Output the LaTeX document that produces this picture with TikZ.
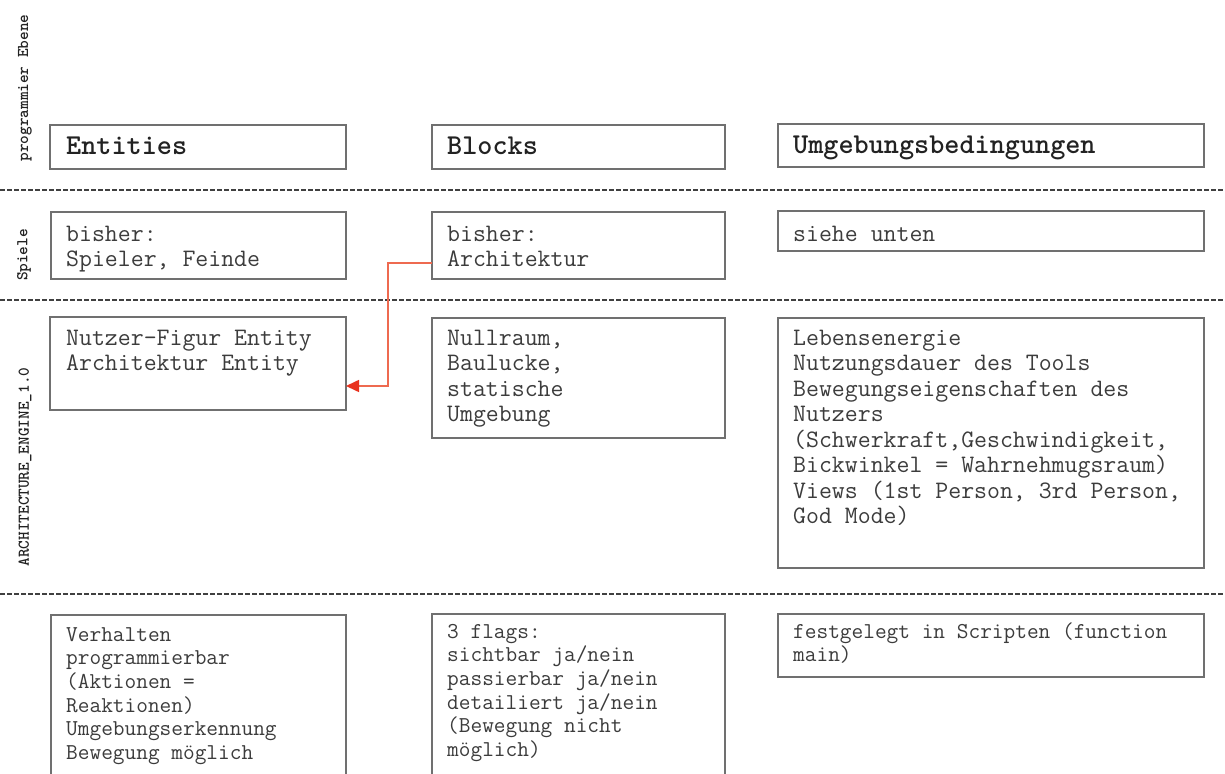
\documentclass[tikz,border=0pt]{standalone}
\usepackage{fontspec}
\usetikzlibrary{arrows.meta}

\definecolor{boxgray}{HTML}{707070}
\definecolor{txtgray}{HTML}{3C3C3C}
\definecolor{headgray}{HTML}{222222}
\definecolor{rulegray}{HTML}{404040}
\definecolor{linkred}{HTML}{EE6A50}
\definecolor{tipred}{HTML}{E8321E}

% strut that fixes the height of a text block's first line
\newcommand\firstline{\rule{0pt}{0.9em}}

\begin{document}
\begin{tikzpicture}[x=1pt,y=-1pt,
  box/.style={draw=boxgray, line width=1.8pt, fill=white, anchor=north west,
              inner sep=0pt, outer sep=0pt},
  body/.style={anchor=north west, inner sep=0pt, align=left, text=txtgray,
               font=\ttfamily\fontsize{25.1}{25.5}\selectfont},
  small/.style={body, font=\ttfamily\fontsize{22.7}{23.6}\selectfont},
  head/.style={anchor=north west, inner sep=0pt, text=headgray,
               font=\ttfamily\bfseries\fontsize{28.8}{30}\selectfont},
  side/.style={rotate=90, inner sep=0pt, text=headgray,
               font=\ttfamily\bfseries\fontsize{16.5}{18}\selectfont},
  sep/.style={rulegray, line width=2.2pt, dash pattern=on 5pt off 2pt},
  link/.style={draw=linkred, line width=1.6pt,
               -{Triangle[length=13pt,width=12pt,color=tipred]}}
]
\useasboundingbox (0,0) rectangle (1225,773);
\fill[white] (0,0) rectangle (1225,773);
\clip (0,0) rectangle (1225,773);

% level separators
\draw[sep] (0,190) -- (1225,190);
\draw[sep] (0,300) -- (1225,300);
\draw[sep] (0,594) -- (1225,594);

% level labels
\node[side] (lab-prog) at (25,88) {programmier Ebene};
\node[side] (lab-spiele) at (24,255) {Spiele};
\node[side] (lab-engine) at (25,467) {ARCHITECTURE\_ENGINE\_1.0};

% header row
\node[box, minimum width=296pt, minimum height=44pt] (ent-h) at (50,125) {};
\node[box, minimum width=293pt, minimum height=44pt] (blk-h) at (432,125) {};
\node[box, minimum width=426pt, minimum height=43pt] (umg-h) at (778,124) {};
\node[head] (ent-ht) at (66,128.1) {\firstline Entities};
\node[head] (blk-ht) at (447,128.1) {\firstline Blocks};
\node[head] (umg-ht) at (793,127.1) {\firstline Umgebungsbedingungen};

% games row
\node[box, minimum width=295pt, minimum height=67pt] (ent-s) at (51,212) {};
\node[box, minimum width=293pt, minimum height=67pt] (blk-s) at (432,212) {};
\node[box, minimum width=426pt, minimum height=40pt] (umg-s) at (778,211) {};
\node[body] (ent-st) at (66,218.4) {\firstline bisher:\\Spieler, Feinde};
\node[body] (blk-st) at (447,218.4) {\firstline bisher:\\Architektur};
\node[body] (umg-st) at (793,218.4) {\firstline siehe unten};

% engine row
\node[box, minimum width=296pt, minimum height=93pt] (ent-a) at (50,317) {};
\node[box, minimum width=293pt, minimum height=120pt] (blk-a) at (432,318) {};
\node[box, minimum width=426pt, minimum height=250pt] (umg-a) at (778,318) {};
\node[body] (ent-at) at (66,322.4) {\firstline Nutzer-Figur Entity\\Architektur Entity};
\node[body] (blk-at) at (447,322.4) {\firstline Nullraum,\\Baulucke,\\statische\\Umgebung};
\node[body] (umg-at) at (793,322.4) {\firstline Lebensenergie\\Nutzungsdauer des Tools\\
  Bewegungseigenschaften des\\Nutzers\\(Schwerkraft,Geschwindigkeit,\\
  Bickwinkel = Wahrnehmugsraum)\\Views (1st Person, 3rd Person,\\God Mode)};

% scripting row
\node[box, minimum width=295pt, minimum height=200pt] (ent-p) at (51,615) {};
\node[box, minimum width=293pt, minimum height=200pt] (blk-p) at (432,614) {};
\node[box, minimum width=426pt, minimum height=63pt] (umg-p) at (778,614) {};
\node[small] (ent-pt) at (66,620.6) {\firstline Verhalten\\programmierbar\\(Aktionen =\\
  Reaktionen)\\Umgebungserkennung\\Bewegung möglich};
\node[small] (blk-pt) at (447,617.6) {\firstline 3 flags:\\sichtbar ja/nein\\passierbar ja/nein\\
  detailiert ja/nein\\(Bewegung nicht\\möglich)};
\node[small] (umg-pt) at (793,617.6) {\firstline festgelegt in Scripten (function\\main)};

% architecture block becomes an entity
\coordinate (out) at ([yshift=-17.5pt]blk-s.west);
\coordinate (in) at ([yshift=-22.5pt]ent-a.east);
\coordinate (bend) at (388,0);
\draw[link] (out) -| (bend |- in) -- (in);
\end{tikzpicture}
\end{document}
